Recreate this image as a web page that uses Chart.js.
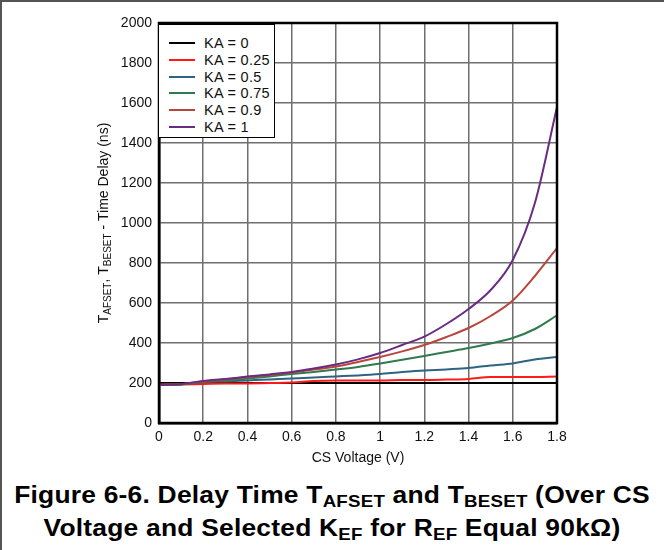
<!DOCTYPE html>
<html>
<head>
<meta charset="utf-8">
<script src="https://cdn.jsdelivr.net/npm/chart.js@4.4.1/dist/chart.umd.min.js"></script>
<style>
  body { margin: 0; background: #fff; }
  #page { position: relative; width: 662px; height: 548px; border-top: 2px solid #555; border-left: 2px solid #555; overflow: hidden; font-family: "Liberation Sans", Arial, sans-serif; }
  #wrap { position: absolute; left: -2px; top: -2px; width: 664px; height: 470px; }
  #legend { position: absolute; left: 156px; top: 22px; width: 117px; height: 114px; background: #fff; border: 1.5px solid #000; box-sizing: border-box; }
  .row { position: absolute; left: 0; height: 16px; font-size: 14.5px; color: #111; }
  .row span.sw { position: absolute; left: 10px; top: 7px; width: 26px; height: 2px; }
  .row span.tx { position: absolute; left: 45px; top: 0; white-space: nowrap; line-height: 16px; letter-spacing: 0.3px; }
  #caption { position: absolute; left: -2px; top: 476px; width: 664px; text-align: center; font-weight: bold; font-size: 24px; line-height: 33px; color: #000; letter-spacing: 0.2px; transform: scaleX(1.1); transform-origin: 332px 0; }
  #caption sub { font-size: 17px; vertical-align: -4px; line-height: 0; }
</style>
</head>
<body>
<div id="page">
  <div id="wrap"><canvas id="chart" width="664" height="470"></canvas></div>
  <div id="legend"></div>
  <div id="caption">Figure 6-6. Delay Time T<sub>AFSET</sub> and T<sub>BESET</sub> (Over CS<br>Voltage and Selected K<sub>EF</sub> for R<sub>EF</sub> Equal 90kΩ)</div>
</div>
<script>
// DATA
const voltage = [0, 0.1, 0.2, 0.3, 0.4, 0.5, 0.6, 0.7, 0.8, 0.9, 1.0, 1.1, 1.2, 1.3, 1.4, 1.5, 1.6, 1.7, 1.8];
const ka0   = [200, 200, 200, 200, 200, 200, 200, 200, 200, 200, 200, 200, 200, 200, 200, 200, 200, 200, 200];
const ka025 = [192, 193, 195, 197, 198, 200, 202, 210, 213, 213, 213, 215, 215, 217, 220, 230, 230, 230, 232];
const ka05  = [190, 193, 205, 208, 213, 218, 222, 228, 233, 238, 245, 255, 262, 268, 275, 288, 298, 318, 330];
const ka075 = [190, 193, 205, 212, 222, 233, 245, 255, 267, 280, 297, 316, 335, 355, 375, 398, 425, 470, 538];
const ka09  = [190, 195, 208, 218, 230, 240, 252, 267, 282, 305, 330, 358, 390, 430, 475, 535, 612, 735, 875];
const ka1   = [190, 195, 210, 220, 232, 243, 255, 272, 292, 318, 350, 390, 432, 495, 570, 665, 815, 1100, 1580];
const seriesLabels = ['KA = 0', 'KA = 0.25', 'KA = 0.5', 'KA = 0.75', 'KA = 0.9', 'KA = 1'];
const seriesColors = ['#000000', '#ff1a1a', '#2e6482', '#2f7a4e', '#b8463c', '#6a2c80'];
const seriesValues = [ka0, ka025, ka05, ka075, ka09, ka1];
const xTicks = [0, 0.2, 0.4, 0.6, 0.8, 1, 1.2, 1.4, 1.6, 1.8];

// build datasets
let datasets = seriesValues.map((vals, i) => ({
  label: seriesLabels[i],
  data: voltage.map((v, j) => ({ x: v, y: vals[j] })),
  borderColor: seriesColors[i],
  backgroundColor: seriesColors[i],
  borderWidth: 2,
  pointRadius: 0,
  fill: false,
  cubicInterpolationMode: 'monotone',
  order: 6 - i
}));

const FONT = '"Liberation Sans", Arial, sans-serif';

// frame + y title with subscripts
const frame = {
  id: 'frame',
  afterDatasetsDraw(chart) {
    const a = chart.chartArea, c = chart.ctx;
    c.save();
    c.strokeStyle = '#000';
    c.lineWidth = 2.5;
    c.strokeRect(a.left, a.top, a.right - a.left, a.bottom - a.top);
    c.restore();
  },
  afterDraw(chart) {
    const c = chart.ctx, a = chart.chartArea;
    const parts = [['T', 0], ['AFSET', 1], [', T', 0], ['BESET', 1], [' - Time Delay (ns)', 0]];
    const big = '14px ' + FONT;
    const small = '10px ' + FONT;
    c.save();
    let w = 0;
    parts.forEach(p => { c.font = p[1] ? small : big; w += c.measureText(p[0]).width; });
    c.translate(103, (a.top + a.bottom) / 2);
    c.rotate(-Math.PI / 2);
    c.fillStyle = '#111';
    c.textBaseline = 'alphabetic';
    let x = -w / 2;
    parts.forEach(p => {
      c.font = p[1] ? small : big;
      c.fillText(p[0], x, p[1] ? 7.5 : 5);
      x += c.measureText(p[0]).width;
    });
    c.restore();
  }
};

let ctx = document.getElementById('chart').getContext('2d');
let graph = new Chart(ctx, {
  type: 'line',
  data: { datasets: datasets },
  options: {
    responsive: false,
    animation: false,
    layout: { padding: { left: 0, top: 23, right: 107, bottom: 0 } },
    plugins: { legend: { display: false }, tooltip: { enabled: false } },
    scales: {
      x: {
        type: 'linear', min: 0, max: 1.8,
        afterBuildTicks: s => { s.ticks = xTicks.map(v => ({ value: v })); },
        afterFit: s => { s.height = 47; },
        grid: { color: '#6f6f6f', lineWidth: 1.5, drawTicks: false },
        border: { color: '#000', width: 2.5 },
        ticks: { padding: 6, color: '#111', font: { family: FONT, size: 14 }, maxRotation: 0, callback: v => String(v) },
        title: { display: true, text: 'CS Voltage (V)', color: '#111', padding: { top: 0, bottom: 3 }, font: { family: FONT, size: 14 } }
      },
      y: {
        min: 0, max: 2000,
        afterFit: s => { s.width = 159; },
        grid: { color: '#6f6f6f', lineWidth: 1.5, drawTicks: false },
        border: { color: '#000', width: 2.5 },
        ticks: { stepSize: 200, padding: 7, color: '#111', font: { family: FONT, size: 14 }, callback: v => String(v) }
      }
    }
  },
  plugins: [frame]
});

// legend
let leg = document.getElementById('legend');
graph.data.datasets.forEach((d, i) => {
  let r = document.createElement('div');
  r.className = 'row';
  r.style.top = (10 + i * 16.8) + 'px';
  r.innerHTML = '<span class="sw" style="background:' + d.borderColor + '"></span><span class="tx">' + d.label + '</span>';
  leg.appendChild(r);
});
</script>
</body>
</html>
